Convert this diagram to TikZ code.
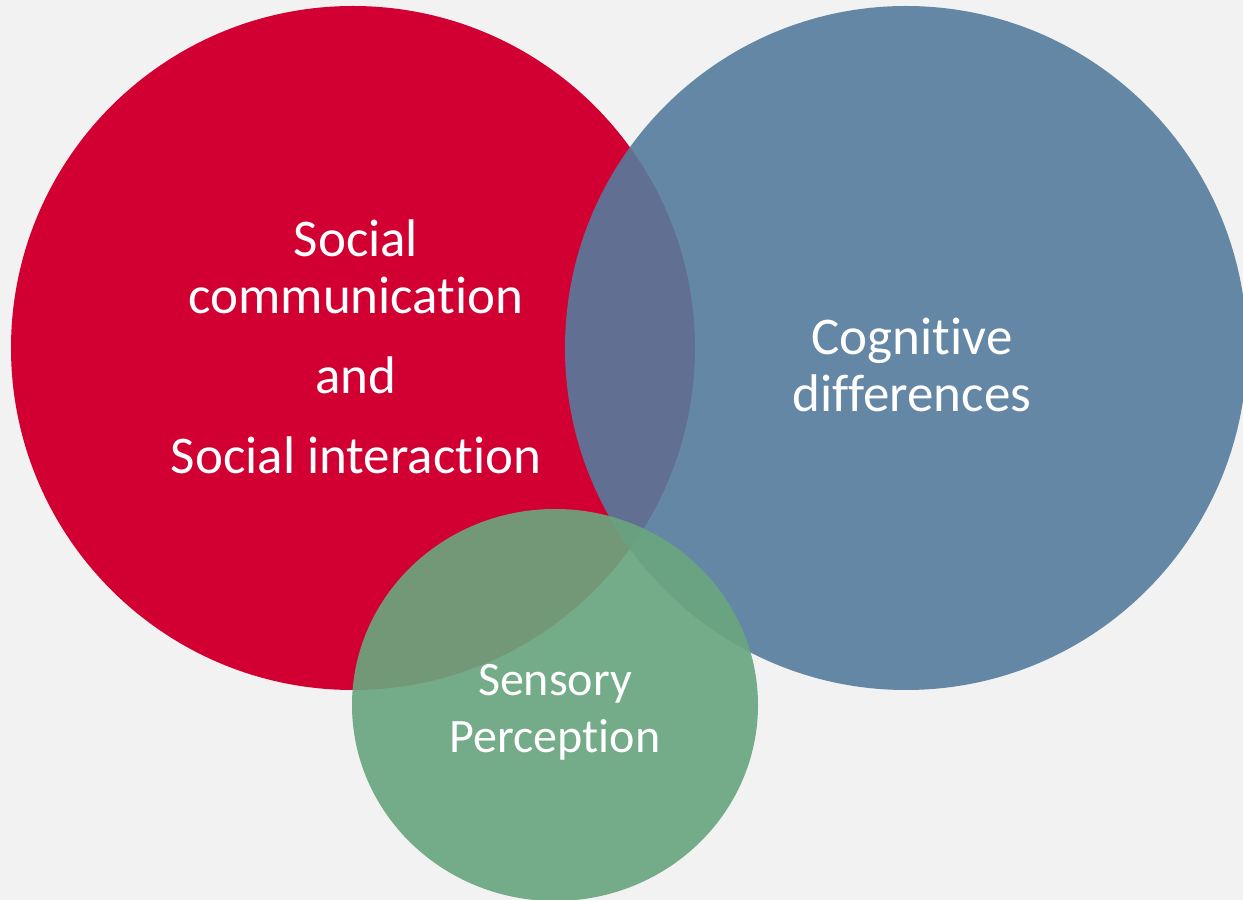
\documentclass[tikz,border=0pt]{standalone}
\usepackage{fontspec}
\setmainfont{Carlito}[Ligatures=NoCommon]
\definecolor{socialred}{HTML}{D20032}
\definecolor{cogblue}{HTML}{557C9D}
\definecolor{sensgreen}{HTML}{6AA67F}
\definecolor{backgrey}{HTML}{F2F2F2}

\begin{document}
\begin{tikzpicture}[x=1pt,y=1pt,semithick]
  \tikzstyle{every node}=[text=white,align=center,font={\fontsize{53}{57}\selectfont}]
  \tikzstyle{blob}=[draw=none]

  \fill[backgrey] (0,0) rectangle (1243,900);
  \useasboundingbox (0,0) rectangle (1243,900);

  \coordinate (S) at (353,552);
  \coordinate (C) at (906,552);
  \coordinate (P) at (555,195);

  \fill[blob,socialred] (S) ellipse [x radius=342, y radius=342];
  \fill[blob,cogblue,opacity=0.9] (C) ellipse [x radius=341, y radius=342];
  \fill[blob,sensgreen,opacity=0.92] (P) ellipse [x radius=203, y radius=196];

  \node (social) at (356,553) {Social\\communication\\[23pt]and\\[23pt]Social interaction};
  \node (cognitive) at (912,535) {Cognitive\\differences};
  \node (sensory) [font={\fontsize{48}{57}\selectfont}] at (555,188) {Sensory\\Perception};
\end{tikzpicture}
\end{document}
